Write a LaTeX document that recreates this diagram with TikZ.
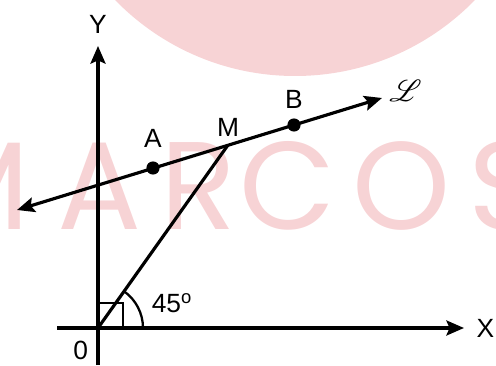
\documentclass[tikz,border=0pt]{standalone}
\usepackage{fontspec}
\setmainfont{Liberation Sans}
\newfontfamily\markfont{Poppins}
\usepackage{mathrsfs}
\usetikzlibrary{arrows.meta,positioning}
\definecolor{markpink}{RGB}{247,211,213}

\begin{document}
\begin{tikzpicture}[x=0.02cm,y=0.02cm,
    >={Stealth[length=10pt,width=8.5pt,inset=1.8pt]},
    axis/.style={line width=1.9pt},
    ray/.style={line width=1.8pt},
    thinline/.style={line width=1.3pt},
    dot/.style={circle,fill,inner sep=0pt,minimum size=7.5pt},
    lbl/.style={font=\fontsize{15}{17}\selectfont,inner sep=1pt},
    wmark/.style={text=markpink,font=\markfont\fontsize{71}{80}\selectfont,inner sep=0pt}]
  \useasboundingbox (0,0) rectangle (496,365);
  % watermark behind the figure
  \begin{scope}
    \clip (0,0) rectangle (496,365);
    \fill[markpink] (295,540) circle (251);
    \foreach \ch/\cx in {M/-24,A/100,R/198,C/288,O/402,S/505}
      \node[wmark,anchor=base] at (\cx,135) {\ch};
  \end{scope}
  % axes
  \coordinate (origin) at (98,37);
  \coordinate (xwest) at (57,37);
  \coordinate (xeast) at (464,37);
  \coordinate (ysouth) at (98,0);
  \coordinate (ynorth) at (98,319);
  \draw[axis,->] (xwest)--(xeast);
  \draw[axis,->] (ysouth)--(ynorth);
  \node[lbl,right=6pt of xeast] (xname) {X};
  \node[lbl,above=6pt of ynorth] (yname) {Y};
  \node[lbl,below left=6.5pt and 4.5pt of origin] (zero) {0};
  % line L and its points
  \coordinate (lwest) at (17,155);
  \coordinate (least) at (382,267);
  \coordinate (pm) at (228,220);
  \draw[ray,<->] (lwest)--(least);
  \node[dot] (pa) at (153,197) {};
  \node[dot] (pb) at (294,240) {};
  \node[lbl,above=6.5pt of pa] (aname) {A};
  \node[lbl,above=3.5pt of pm] (mname) {M};
  \node[lbl,above=4pt of pb] (bname) {B};
  \node[right=3pt of least,yshift=4pt,inner sep=1pt,font=\fontsize{18}{20}\selectfont] (lname) {$\mathscr{L}$};
  % segment OM, right angle and 45 degrees
  \draw[ray] (origin)--(pm);
  \draw[thinline] (origin) rectangle ++(25,25);
  \draw[thinline] (origin) ++(45,0) arc[start angle=0,end angle=54.6,radius=45];
  \node[lbl] (angle) at (172,62) {45\textsuperscript{o}};
\end{tikzpicture}
\end{document}
